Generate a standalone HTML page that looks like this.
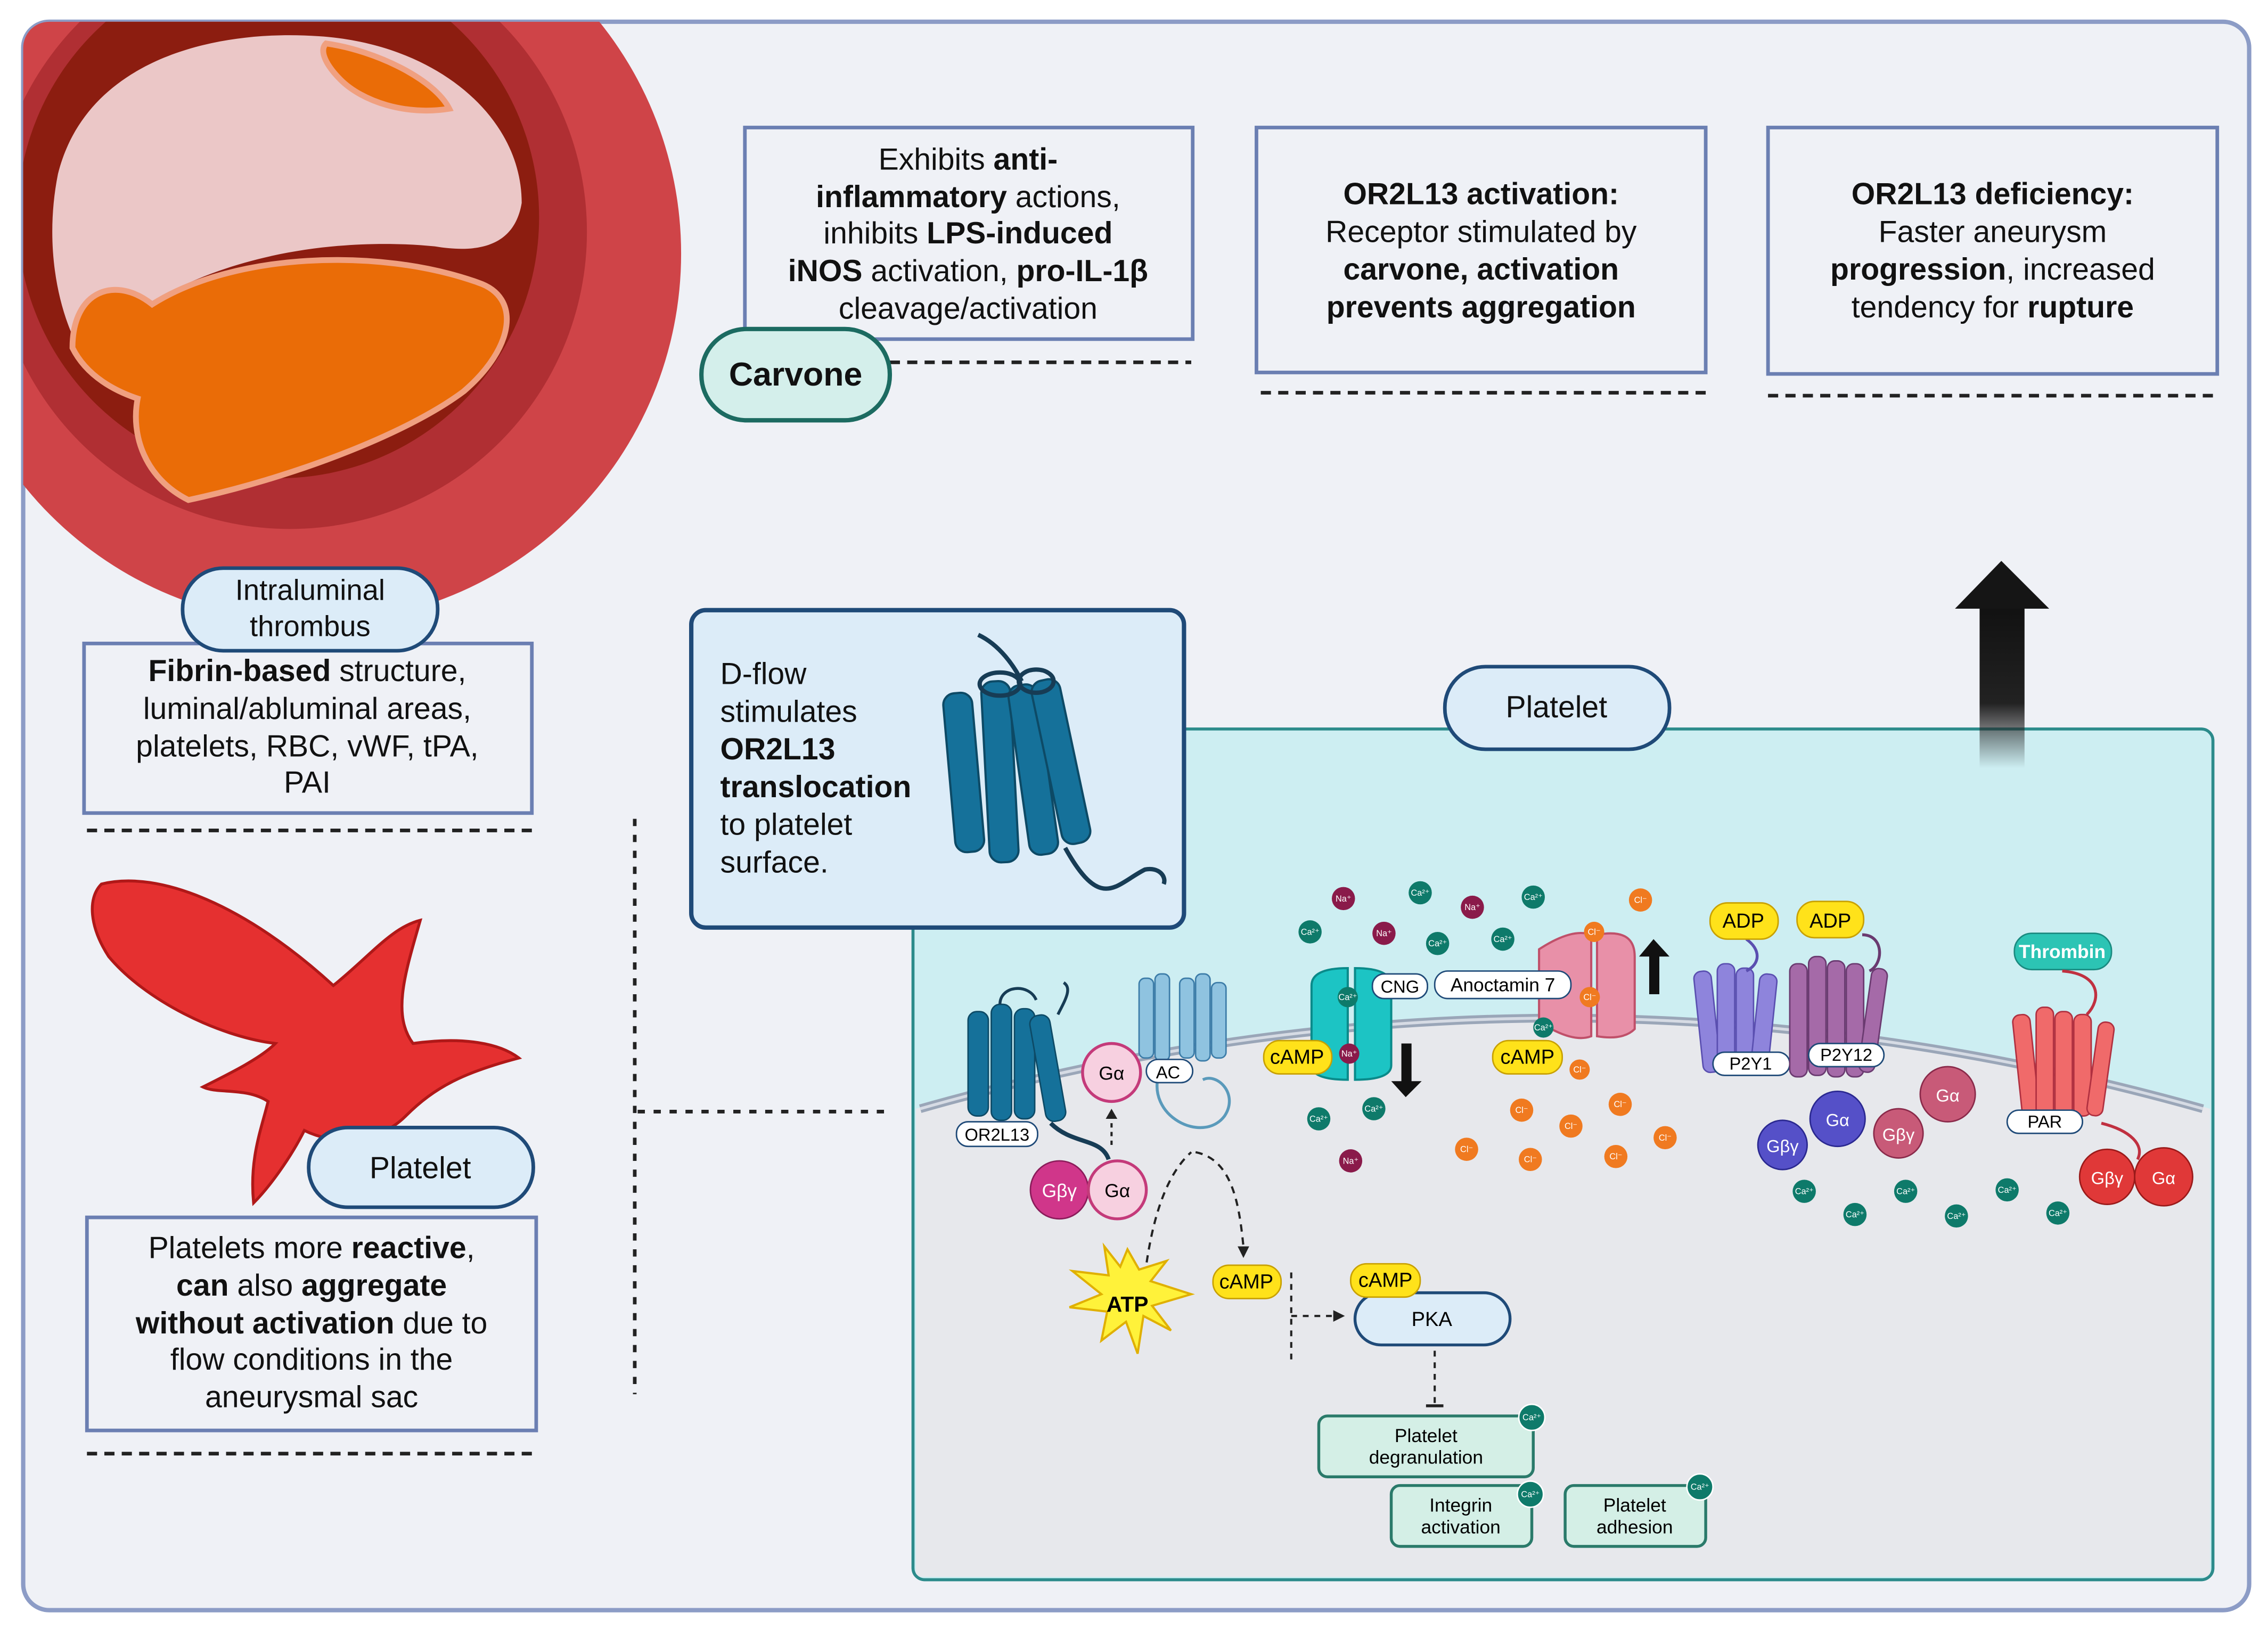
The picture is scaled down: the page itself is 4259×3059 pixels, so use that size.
<!DOCTYPE html>
<html><head><meta charset="utf-8"><style>
html,body{margin:0;padding:0;background:#fff}
svg{display:block}
text{font-family:"Liberation Sans",sans-serif}
</style></head><body>
<svg width="4259" height="3059" viewBox="0 0 1565 1124" preserveAspectRatio="none" xmlns="http://www.w3.org/2000/svg">
<defs>
<clipPath id="fr"><rect x="16" y="15" width="1536" height="1096" rx="18"/></clipPath>
<linearGradient id="ag" x1="0" y1="0" x2="0" y2="1"><stop offset="0" stop-color="#111"/><stop offset="0.6" stop-color="#222"/><stop offset="1" stop-color="#222" stop-opacity="0"/></linearGradient>
</defs>
<rect x="0" y="0" width="1565" height="1124" fill="#fff"/>
<rect x="16" y="15" width="1536" height="1096" rx="18" fill="#eff1f6" stroke="#8c9cc6" stroke-width="3"/>
<g clip-path="url(#fr)">
<circle cx="215" cy="175" r="255" fill="#cf4448"/>
<circle cx="200" cy="160" r="205" fill="#b02f33"/>
<circle cx="192" cy="150" r="180" fill="#8c1d10"/>
<path d="M40,120 C60,40 150,20 220,25 C300,30 360,80 360,140 C355,170 330,175 300,170 C250,165 180,170 120,200 C90,215 70,235 60,250 C40,220 30,170 40,120Z" fill="#ebc7c7"/>
<path d="M105,210 C160,175 260,170 330,195 C360,205 355,240 320,270 C280,300 200,330 130,345 C100,330 90,300 95,275 C80,270 60,260 50,240 C50,200 80,190 105,210Z" fill="#ea6c07" stroke="#f0a080" stroke-width="4"/>
<path d="M225,30 C260,35 300,55 310,75 C280,80 250,70 235,55 C225,45 220,35 225,30Z" fill="#ea6c07" stroke="#f0a080" stroke-width="4"/>
</g>
<!-- top boxes -->
<rect x="514" y="88" width="309" height="146" fill="#eff1f6" stroke="#6b7fb2" stroke-width="2.5"/>
<g font-size="21" text-anchor="middle" fill="#111">
<text x="668" y="117">Exhibits <tspan font-weight="bold">anti-</tspan></text>
<text x="668" y="143"><tspan font-weight="bold">inflammatory</tspan> actions,</text>
<text x="668" y="168">inhibits <tspan font-weight="bold">LPS-induced</tspan></text>
<text x="668" y="194"><tspan font-weight="bold">iNOS</tspan> activation, <tspan font-weight="bold">pro-IL-1β</tspan></text>
<text x="668" y="220">cleavage/activation</text>
</g>
<line x1="614" y1="250" x2="822" y2="250" stroke="#222" stroke-width="2.5" stroke-dasharray="7,5"/>
<rect x="484" y="227" width="130" height="63" rx="31" fill="#d4efeb" stroke="#1c6b61" stroke-width="3"/>
<text x="549" y="266" font-size="23" font-weight="bold" text-anchor="middle" fill="#111">Carvone</text>

<rect x="867" y="88" width="310" height="169" fill="#eff1f6" stroke="#6b7fb2" stroke-width="2.5"/>
<g font-size="21" text-anchor="middle" fill="#111">
<text x="1022" y="141" font-weight="bold">OR2L13 activation:</text>
<text x="1022" y="167">Receptor stimulated by</text>
<text x="1022" y="193" font-weight="bold">carvone, activation</text>
<text x="1022" y="219" font-weight="bold">prevents aggregation</text>
</g>
<line x1="870" y1="271" x2="1177" y2="271" stroke="#222" stroke-width="2.5" stroke-dasharray="7,5"/>

<rect x="1220" y="88" width="310" height="170" fill="#eff1f6" stroke="#6b7fb2" stroke-width="2.5"/>
<g font-size="21" text-anchor="middle" fill="#111">
<text x="1375" y="141" font-weight="bold">OR2L13 deficiency:</text>
<text x="1375" y="167">Faster aneurysm</text>
<text x="1375" y="193"><tspan font-weight="bold">progression</tspan>, increased</text>
<text x="1375" y="219">tendency for <tspan font-weight="bold">rupture</tspan></text>
</g>
<line x1="1220" y1="273" x2="1527" y2="273" stroke="#222" stroke-width="2.5" stroke-dasharray="7,5"/>

<!-- thrombus -->
<rect x="58" y="444" width="309" height="117" fill="#eff1f6" stroke="#6b7fb2" stroke-width="2.5"/>
<g font-size="21" text-anchor="middle" fill="#111">
<text x="212" y="470"><tspan font-weight="bold">Fibrin-based</tspan> structure,</text>
<text x="212" y="496">luminal/abluminal areas,</text>
<text x="212" y="522">platelets, RBC, vWF, tPA,</text>
<text x="212" y="547">PAI</text>
</g>
<rect x="126" y="392" width="176" height="57" rx="28" fill="#dcecf8" stroke="#1f4a78" stroke-width="2.5"/>
<text x="214" y="414" font-size="20" text-anchor="middle" fill="#111">Intraluminal</text>
<text x="214" y="439" font-size="20" text-anchor="middle" fill="#111">thrombus</text>
<line x1="60" y1="573" x2="367" y2="573" stroke="#222" stroke-width="2.5" stroke-dasharray="7,5"/>

<!-- platelet shape -->
<path d="M70,610 C110,600 170,625 230,680 C255,660 270,640 290,635 C280,670 270,700 285,720 C320,715 345,720 358,730 C320,740 300,750 280,770 C260,790 230,790 210,780 C200,800 185,820 175,830 C172,800 180,780 185,760 C170,750 150,755 140,750 C160,740 180,730 190,720 C150,715 100,690 75,660 C62,640 60,620 70,610Z" fill="#e53030" stroke="#b01818" stroke-width="2"/>
<rect x="60" y="840" width="310" height="147" fill="#eff1f6" stroke="#6b7fb2" stroke-width="2.5"/>
<g font-size="21" text-anchor="middle" fill="#111">
<text x="215" y="868">Platelets more <tspan font-weight="bold">reactive</tspan>,</text>
<text x="215" y="894" font-weight="bold">can <tspan font-weight="normal">also</tspan> aggregate</text>
<text x="215" y="920"><tspan font-weight="bold">without activation</tspan> due to</text>
<text x="215" y="945">flow conditions in the</text>
<text x="215" y="971">aneurysmal sac</text>
</g>
<rect x="213" y="778" width="155" height="55" rx="27" fill="#dcecf8" stroke="#1f4a78" stroke-width="2.5"/>
<text x="290" y="813" font-size="21" text-anchor="middle" fill="#111">Platelet</text>
<line x1="60" y1="1003" x2="367" y2="1003" stroke="#222" stroke-width="2.5" stroke-dasharray="7,5"/>

<line x1="438" y1="565" x2="438" y2="962" stroke="#222" stroke-width="2.5" stroke-dasharray="5,6"/>
<line x1="440" y1="767" x2="612" y2="767" stroke="#222" stroke-width="2.5" stroke-dasharray="5,6"/>

<!-- cell -->
<rect x="630" y="503" width="897" height="587" rx="8" fill="#cdeef2" stroke="#2c8b8b" stroke-width="2"/>
<path d="M632,765 Q1075,640 1525,765 L1525,1088 L632,1088Z" fill="#e7e8ec"/>
<path d="M635,765 Q1075,640 1520,765" fill="none" stroke="#9aa6b8" stroke-width="6"/>
<path d="M635,765 Q1075,640 1520,765" fill="none" stroke="#d6dbe4" stroke-width="2"/>
<rect x="630" y="503" width="897" height="587" rx="8" fill="none" stroke="#2c8b8b" stroke-width="2"/>

<!-- up arrow -->
<rect x="1366" y="418" width="31" height="112" fill="url(#ag)"/>
<polygon points="1349,420 1414,420 1381,387" fill="#151515"/>

<rect x="997" y="460" width="155" height="57" rx="28" fill="#dcecf8" stroke="#1f4a78" stroke-width="2.5"/>
<text x="1074" y="495" font-size="21" text-anchor="middle" fill="#111">Platelet</text>

<!-- D-flow box -->
<rect x="477" y="421" width="340" height="219" rx="10" fill="#dcecf8" stroke="#1f4a78" stroke-width="3"/>
<g font-size="21" fill="#111">
<text x="497" y="472">D-flow</text>
<text x="497" y="498">stimulates</text>
<text x="497" y="524" font-weight="bold">OR2L13</text>
<text x="497" y="550" font-weight="bold">translocation</text>
<text x="497" y="576">to platelet</text>
<text x="497" y="602">surface.</text>
</g>
<g fill="#15719a" stroke="#0d4a66" stroke-width="1.5">
<path d="M675,438 C690,445 700,460 705,470" fill="none" stroke="#173c55" stroke-width="3"/>
<rect x="655" y="478" width="20" height="110" rx="8" transform="rotate(-5 665 533)"/>
<rect x="680" y="470" width="20" height="125" rx="8" transform="rotate(-3 690 533)"/>
<rect x="703" y="472" width="20" height="118" rx="8" transform="rotate(-8 713 531)"/>
<rect x="722" y="468" width="20" height="115" rx="8" transform="rotate(-12 732 525)"/>
<path d="M735,585 C760,630 770,610 790,600 C800,598 805,605 803,610" fill="none" stroke="#173c55" stroke-width="3"/>
<ellipse cx="690" cy="472" rx="14" ry="8" fill="none" stroke="#173c55" stroke-width="3"/>
<ellipse cx="715" cy="470" rx="12" ry="8" fill="none" stroke="#173c55" stroke-width="3"/>
</g>

<!-- OR2L13 receptor -->
<g fill="#15719a" stroke="#0d4a66" stroke-width="1">
<rect x="668" y="698" width="14" height="72" rx="6"/><rect x="684" y="693" width="14" height="80" rx="6"/><rect x="700" y="696" width="14" height="76" rx="6"/><rect x="716" y="700" width="14" height="74" rx="6" transform="rotate(-10 723 737)"/>
</g>
<path d="M690,693 C690,680 710,678 715,690 M730,700 C735,690 740,682 734,678" fill="none" stroke="#173c55" stroke-width="2"/>
<rect x="660" y="774" width="56" height="17" rx="8" fill="#fff" stroke="#1f4a78"/>
<text x="688" y="787" font-size="12" text-anchor="middle">OR2L13</text>
<path d="M725,775 C740,790 760,785 765,800" fill="none" stroke="#173c55" stroke-width="3"/>
<circle cx="731" cy="821" r="20" fill="#d0368a" stroke="#8a1c5a"/><text x="731" y="826" font-size="13" text-anchor="middle" fill="#fff">Gβγ</text>
<circle cx="771" cy="821" r="20" fill="#f7d0e0" stroke="#c43a7a" stroke-width="2"/><text x="771" y="826" font-size="13" text-anchor="middle">Gα</text>
<circle cx="767" cy="740" r="20" fill="#f7d0e0" stroke="#c43a7a" stroke-width="2"/><text x="767" y="745" font-size="13" text-anchor="middle">Gα</text>
<line x1="767" y1="790" x2="767" y2="770" stroke="#222" stroke-width="1.5" stroke-dasharray="3,3"/><polygon points="763,772 771,772 767,765" fill="#222"/>
<!-- AC -->
<g fill="#8fc3e0" stroke="#3c7ca8" stroke-width="1">
<rect x="786" y="675" width="10" height="55" rx="4"/><rect x="797" y="672" width="10" height="60" rx="4"/><rect x="814" y="675" width="10" height="55" rx="4"/><rect x="825" y="672" width="10" height="60" rx="4"/><rect x="836" y="678" width="10" height="52" rx="4"/>
</g>
<path d="M800,740 C790,770 830,790 845,770 C855,755 840,740 830,745" fill="none" stroke="#5a9abb" stroke-width="2"/>
<rect x="791" y="731" width="32" height="16" rx="8" fill="#fff" stroke="#1f4a78"/><text x="806" y="744" font-size="12" text-anchor="middle">AC</text>
<path d="M825,795 C850,800 855,830 858,860" fill="none" stroke="#222" stroke-width="1.5" stroke-dasharray="5,4"/><polygon points="854,860 862,860 858,868" fill="#222"/>
<path d="M790,880 C795,840 805,810 822,795" fill="none" stroke="#222" stroke-width="1.5" stroke-dasharray="5,4"/>
<polygon points="778,862 786,876 805,870 794,884 822,893 795,901 808,918 789,908 785,934 777,912 760,925 764,905 738,902 760,893 740,877 765,880 762,860 773,874" fill="#fff23a" stroke="#e0b000" stroke-width="1.5"/>
<text x="778" y="905" font-size="15" font-weight="bold" text-anchor="middle">ATP</text>
<rect x="837" y="873" width="47" height="23" rx="11" fill="#ffe21a" stroke="#c8a000"/><text x="860" y="889" font-size="14" text-anchor="middle">cAMP</text>
<line x1="891" y1="878" x2="891" y2="940" stroke="#222" stroke-width="1.5" stroke-dasharray="4,4"/>
<line x1="891" y1="908" x2="922" y2="908" stroke="#222" stroke-width="1.5" stroke-dasharray="4,4"/><polygon points="920,904 928,908 920,912" fill="#222"/>
<rect x="935" y="892" width="107" height="36" rx="18" fill="#dcecf8" stroke="#1f4a78" stroke-width="2"/><text x="988" y="915" font-size="14" text-anchor="middle">PKA</text>
<rect x="932" y="872" width="48" height="23" rx="11" fill="#ffe21a" stroke="#c8a000"/><text x="956" y="888" font-size="14" text-anchor="middle">cAMP</text>
<line x1="990" y1="932" x2="990" y2="970" stroke="#222" stroke-width="1.5" stroke-dasharray="4,4"/><line x1="984" y1="970" x2="996" y2="970" stroke="#222" stroke-width="2"/>
<rect x="910" y="977" width="148" height="42" rx="6" fill="#d4efe6" stroke="#2a7a6a" stroke-width="2"/><text x="984" y="995" font-size="13" text-anchor="middle">Platelet</text><text x="984" y="1010" font-size="13" text-anchor="middle">degranulation</text>
<rect x="960" y="1025" width="97" height="42" rx="6" fill="#d4efe6" stroke="#2a7a6a" stroke-width="2"/><text x="1008" y="1043" font-size="13" text-anchor="middle">Integrin</text><text x="1008" y="1058" font-size="13" text-anchor="middle">activation</text>
<rect x="1080" y="1025" width="97" height="42" rx="6" fill="#d4efe6" stroke="#2a7a6a" stroke-width="2"/><text x="1128" y="1043" font-size="13" text-anchor="middle">Platelet</text><text x="1128" y="1058" font-size="13" text-anchor="middle">adhesion</text>
<g fill="#0e7a6a" stroke="#fff" stroke-width="1"><circle cx="1057" cy="978" r="9"/><circle cx="1056" cy="1031" r="9"/><circle cx="1173" cy="1026" r="9"/></g>
<g font-size="6" fill="#fff" text-anchor="middle"><text x="1057" y="980">Ca²⁺</text><text x="1056" y="1033">Ca²⁺</text><text x="1173" y="1028">Ca²⁺</text></g>

<!-- CNG -->
<g stroke="#0a8a8a" stroke-width="1.5">
<path d="M905,680 Q905,668 930,668 L930,745 Q905,745 905,735Z" fill="#1cc4c4"/>
<path d="M935,668 Q960,668 960,680 L960,735 Q960,745 935,745Z" fill="#1cc4c4"/>
</g>
<!-- anoctamin -->
<g stroke="#c0506a" stroke-width="1.5">
<path d="M1062,655 Q1085,640 1098,645 L1098,715 Q1085,720 1062,705Z" fill="#e890a8"/>
<path d="M1102,645 Q1128,640 1128,660 L1128,710 Q1120,718 1102,715Z" fill="#e890a8"/>
</g>
<rect x="947" y="672" width="38" height="17" rx="8" fill="#fff" stroke="#1f4a78"/><text x="966" y="685" font-size="12" text-anchor="middle">CNG</text>
<rect x="990" y="670" width="94" height="19" rx="9" fill="#fff" stroke="#1f4a78"/><text x="1037" y="684" font-size="13" text-anchor="middle">Anoctamin 7</text>
<rect x="872" y="718" width="47" height="23" rx="11" fill="#ffe21a" stroke="#c8a000"/><text x="895" y="734" font-size="14" text-anchor="middle">cAMP</text>
<rect x="1030" y="718" width="48" height="23" rx="11" fill="#ffe21a" stroke="#c8a000"/><text x="1054" y="734" font-size="14" text-anchor="middle">cAMP</text>
<rect x="967" y="720" width="7" height="28" fill="#111"/><polygon points="960,746 981,746 970,757" fill="#111"/>
<rect x="1138" y="658" width="7" height="28" fill="#111"/><polygon points="1131,660 1152,660 1141,648" fill="#111"/>
<!-- ions -->
<g font-size="6" text-anchor="middle">
<g fill="#8a1a4a"><circle cx="927" cy="620" r="8"/><circle cx="955" cy="644" r="8"/><circle cx="1016" cy="626" r="8"/><circle cx="932" cy="801" r="8"/><circle cx="931" cy="727" r="7"/></g>
<g fill="#0e7a6a"><circle cx="904" cy="643" r="8"/><circle cx="980" cy="616" r="8"/><circle cx="992" cy="651" r="8"/><circle cx="1037" cy="648" r="8"/><circle cx="1058" cy="619" r="8"/><circle cx="930" cy="688" r="7"/><circle cx="1065" cy="709" r="7"/><circle cx="910" cy="772" r="8"/><circle cx="948" cy="765" r="8"/><circle cx="1245" cy="822" r="8"/><circle cx="1280" cy="838" r="8"/><circle cx="1315" cy="822" r="8"/><circle cx="1350" cy="839" r="8"/><circle cx="1385" cy="821" r="8"/><circle cx="1420" cy="837" r="8"/></g>
<g fill="#f07a20"><circle cx="1132" cy="621" r="8"/><circle cx="1100" cy="643" r="7"/><circle cx="1097" cy="688" r="7"/><circle cx="1090" cy="738" r="7"/><circle cx="1050" cy="766" r="8"/><circle cx="1084" cy="777" r="8"/><circle cx="1118" cy="762" r="8"/><circle cx="1012" cy="793" r="8"/><circle cx="1056" cy="800" r="8"/><circle cx="1115" cy="798" r="8"/><circle cx="1149" cy="785" r="8"/></g>
<g fill="#fff">
<text x="927" y="622">Na⁺</text><text x="955" y="646">Na⁺</text><text x="1016" y="628">Na⁺</text><text x="932" y="803">Na⁺</text><text x="931" y="729">Na⁺</text>
<text x="904" y="645">Ca²⁺</text><text x="980" y="618">Ca²⁺</text><text x="992" y="653">Ca²⁺</text><text x="1037" y="650">Ca²⁺</text><text x="1058" y="621">Ca²⁺</text><text x="930" y="690">Ca²⁺</text><text x="1065" y="711">Ca²⁺</text><text x="910" y="774">Ca²⁺</text><text x="948" y="767">Ca²⁺</text><text x="1245" y="824">Ca²⁺</text><text x="1280" y="840">Ca²⁺</text><text x="1315" y="824">Ca²⁺</text><text x="1350" y="841">Ca²⁺</text><text x="1385" y="823">Ca²⁺</text><text x="1420" y="839">Ca²⁺</text>
<text x="1132" y="623">Cl⁻</text><text x="1100" y="645">Cl⁻</text><text x="1097" y="690">Cl⁻</text><text x="1090" y="740">Cl⁻</text><text x="1050" y="768">Cl⁻</text><text x="1084" y="779">Cl⁻</text><text x="1118" y="764">Cl⁻</text><text x="1012" y="795">Cl⁻</text><text x="1056" y="802">Cl⁻</text><text x="1115" y="800">Cl⁻</text><text x="1149" y="787">Cl⁻</text>
</g>
</g>
<!-- P2Y1 -->
<g fill="#8e84dc" stroke="#5a4fb0" stroke-width="1">
<rect x="1172" y="670" width="12" height="70" rx="5" transform="rotate(-6 1178 705)"/><rect x="1185" y="665" width="12" height="75" rx="5"/><rect x="1198" y="668" width="12" height="72" rx="5"/><rect x="1211" y="672" width="12" height="70" rx="5" transform="rotate(6 1217 707)"/>
</g>
<path d="M1205,648 C1215,655 1215,665 1205,670" fill="none" stroke="#5a4fb0" stroke-width="2"/>
<rect x="1180" y="623" width="47" height="25" rx="12" fill="#ffe21a" stroke="#c8a000"/><text x="1203" y="640" font-size="14" text-anchor="middle">ADP</text>
<rect x="1182" y="726" width="53" height="16" rx="8" fill="#fff" stroke="#1f4a78"/><text x="1208" y="738" font-size="12" text-anchor="middle">P2Y1</text>
<!-- P2Y12 -->
<g fill="#a56aa8" stroke="#6a3a70" stroke-width="1">
<rect x="1235" y="665" width="12" height="78" rx="5"/><rect x="1248" y="660" width="12" height="82" rx="5"/><rect x="1261" y="663" width="12" height="80" rx="5"/><rect x="1274" y="665" width="12" height="78" rx="5"/><rect x="1287" y="668" width="11" height="72" rx="5" transform="rotate(8 1292 704)"/>
</g>
<path d="M1285,645 C1300,645 1300,665 1290,670" fill="none" stroke="#6a3a70" stroke-width="2"/>
<rect x="1240" y="622" width="46" height="25" rx="12" fill="#ffe21a" stroke="#c8a000"/><text x="1263" y="640" font-size="14" text-anchor="middle">ADP</text>
<rect x="1248" y="720" width="52" height="16" rx="8" fill="#fff" stroke="#1f4a78"/><text x="1274" y="732" font-size="12" text-anchor="middle">P2Y12</text>
<circle cx="1230" cy="790" r="17" fill="#5550c8" stroke="#2a2890"/><text x="1230" y="795" font-size="12" text-anchor="middle" fill="#fff">Gβγ</text>
<circle cx="1268" cy="772" r="19" fill="#5550c8" stroke="#2a2890"/><text x="1268" y="777" font-size="12" text-anchor="middle" fill="#fff">Gα</text>
<circle cx="1310" cy="782" r="17" fill="#c85a78" stroke="#8a2a4a"/><text x="1310" y="787" font-size="12" text-anchor="middle" fill="#fff">Gβγ</text>
<circle cx="1344" cy="755" r="19" fill="#c85a78" stroke="#8a2a4a"/><text x="1344" y="760" font-size="12" text-anchor="middle" fill="#fff">Gα</text>
<!-- PAR -->
<rect x="1390" y="644" width="67" height="25" rx="12" fill="#2cc4b4" stroke="#1a8a80"/><text x="1423" y="661" font-size="13" font-weight="bold" text-anchor="middle" fill="#fff">Thrombin</text>
<path d="M1423,670 C1450,672 1450,690 1440,700" fill="none" stroke="#c03040" stroke-width="2"/>
<g fill="#f06a6a" stroke="#b03040" stroke-width="1">
<rect x="1392" y="700" width="12" height="70" rx="5" transform="rotate(-6 1398 735)"/><rect x="1405" y="695" width="12" height="75" rx="5"/><rect x="1418" y="698" width="12" height="72" rx="5"/><rect x="1431" y="700" width="12" height="70" rx="5"/><rect x="1444" y="705" width="11" height="65" rx="5" transform="rotate(8 1449 737)"/>
</g>
<rect x="1385" y="766" width="52" height="16" rx="8" fill="#fff" stroke="#1f4a78"/><text x="1411" y="778" font-size="12" text-anchor="middle">PAR</text>
<path d="M1450,775 C1470,780 1480,790 1475,800" fill="none" stroke="#c03040" stroke-width="2"/>
<circle cx="1454" cy="812" r="19" fill="#e03838" stroke="#9a1a1a"/><text x="1454" y="817" font-size="12" text-anchor="middle" fill="#fff">Gβγ</text>
<circle cx="1493" cy="812" r="20" fill="#e03838" stroke="#9a1a1a"/><text x="1493" y="817" font-size="12" text-anchor="middle" fill="#fff">Gα</text>
</svg>
</body></html>
